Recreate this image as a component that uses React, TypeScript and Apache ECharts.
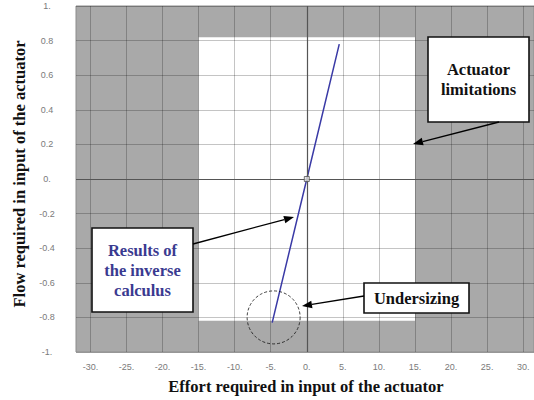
import React, { useEffect, useRef } from "react";
import * as echarts from "echarts";

const xTicks = [-30, -25, -20, -15, -10, -5, 0, 5, 10, 15, 20, 25, 30];
const xRange = [-32, 31.5];
const yRange = [-1, 1];
const yStep = 0.2;
const limitX = [-15, 15];
const limitY = [-0.82, 0.82];
const inverseX = [-4.8, 0, 4.5];
const inverseY = [-0.83, 0, 0.78];
const undersizingCenter = [-4.6, -0.8];
const xTitle = "Effort required in input of the actuator";
const yTitle = "Flow required in input of the actuator";
const noteResults = "Results of\nthe inverse\ncalculus";
const noteUnder = "Undersizing";
const noteLimits = "Actuator\nlimitations";

const SERIF = '"Liberation Serif", "DejaVu Serif", serif';
const SANS = '"Liberation Sans", Arial, sans-serif';

const fmt = (v: number) =>
  Math.abs(v - Math.round(v)) < 1e-9 ? Math.round(v) + "." : v.toFixed(1);

function arrow(x1: number, y1: number, x2: number, y2: number) {
  const dx = x2 - x1;
  const dy = y2 - y1;
  const len = Math.sqrt(dx * dx + dy * dy);
  const ux = dx / len;
  const uy = dy / len;
  const L = 10;
  const W = 3.8;
  const bx = x2 - ux * L;
  const by = y2 - uy * L;
  return [
    {
      type: "line",
      shape: { x1, y1, x2: bx, y2: by },
      style: { stroke: "#000", lineWidth: 1.3 },
      silent: true,
      z: 100,
    },
    {
      type: "polygon",
      shape: {
        points: [
          [x2, y2],
          [bx - uy * W, by + ux * W],
          [bx + uy * W, by - ux * W],
        ],
      },
      style: { fill: "#000" },
      silent: true,
      z: 100,
    },
  ];
}

function box(x: number, y: number, w: number, h: number, text: string, color: string) {
  return [
    {
      type: "rect",
      shape: { x, y, width: w, height: h },
      style: { fill: "#fff", stroke: "#111", lineWidth: 1.6 },
      silent: true,
      z: 100,
    },
    {
      type: "text",
      x: x + w / 2,
      y: y + h / 2,
      style: {
        text,
        fill: color,
        font: `bold 16.5px ${SERIF}`,
        align: "center",
        verticalAlign: "middle",
        lineHeight: 20,
      },
      silent: true,
      z: 101,
    },
  ];
}

export default function App() {
  const ref = useRef<HTMLDivElement>(null);
  useEffect(() => {
    document.body.style.margin = "0";
    const chart = echarts.init(ref.current!, null, { renderer: "svg" });
    const splitStyle = { color: "rgba(0,0,0,0.23)", width: 1 };
    chart.setOption({
      animation: false,
      backgroundColor: "#fff",
      grid: {
        left: 76,
        right: 0,
        top: 6,
        bottom: 48,
        show: true,
        backgroundColor: "#a9a9a9",
        borderColor: "#8c8c8c",
        borderWidth: 1,
        z: 0,
      },
      xAxis: {
        type: "value",
        min: xRange[0],
        max: xRange[1],
        z: 2,
        axisLine: { show: false },
        axisTick: { show: false, customValues: xTicks },
        splitLine: { show: true, lineStyle: splitStyle },
        axisLabel: {
          customValues: xTicks,
          formatter: fmt,
          fontSize: 9,
          color: "#7a7a7a",
          fontFamily: SANS,
          margin: 10,
        },
      },
      yAxis: {
        type: "value",
        min: yRange[0],
        max: yRange[1],
        interval: yStep,
        z: 2,
        axisLine: { show: false },
        axisTick: { show: false },
        splitLine: { show: true, lineStyle: splitStyle },
        axisLabel: {
          formatter: fmt,
          fontSize: 9,
          color: "#7a7a7a",
          fontFamily: SANS,
          align: "center",
          margin: 29,
        },
      },
      series: [
        {
          type: "line",
          data: [],
          z: 1,
          silent: true,
          markArea: {
            silent: true,
            itemStyle: { color: "#fff" },
            data: [[{ coord: [limitX[0], limitY[1]] }, { coord: [limitX[1], limitY[0]] }]],
          },
        },
        {
          type: "line",
          data: [],
          z: 3,
          silent: true,
          markLine: {
            silent: true,
            symbol: "none",
            label: { show: false },
            lineStyle: { color: "#555", width: 1.2, type: "solid" },
            data: [{ xAxis: 0 }, { yAxis: 0 }],
          },
        },
        {
          type: "line",
          z: 4,
          symbol: "none",
          lineStyle: { color: "#3a3aa6", width: 1.5 },
          data: inverseX.map((x, i) => [x, inverseY[i]]),
        },
        {
          type: "scatter",
          z: 5,
          symbol: "rect",
          symbolSize: 5,
          itemStyle: { color: "#ddd", borderColor: "#555", borderWidth: 1 },
          data: [[inverseX[1], inverseY[1]]],
        },
        {
          type: "scatter",
          z: 5,
          symbol: "circle",
          symbolSize: 53,
          itemStyle: {
            color: "rgba(0,0,0,0)",
            borderColor: "#111",
            borderWidth: 1,
            borderType: [3, 2],
          },
          data: [undersizingCenter],
        },
      ],
      graphic: [
        {
          type: "text",
          x: 306,
          y: 386,
          style: {
            text: xTitle,
            fill: "#111",
            font: `bold 16.5px ${SERIF}`,
            align: "center",
            verticalAlign: "middle",
          },
          silent: true,
        },
        {
          type: "text",
          x: 19,
          y: 174,
          rotation: Math.PI / 2,
          style: {
            text: yTitle,
            fill: "#111",
            font: `bold 16.5px ${SERIF}`,
            align: "center",
            verticalAlign: "middle",
          },
          silent: true,
        },
        ...box(92, 228, 101, 84, noteResults, "#3a3a90"),
        ...box(364, 283, 105, 30, noteUnder, "#111"),
        ...box(428, 37, 101, 85, noteLimits, "#111"),
        ...arrow(193, 244, 294, 217),
        ...arrow(364, 296, 302, 306),
        ...arrow(499, 122, 413, 144),
      ],
    });
    return () => chart.dispose();
  }, []);
  return <div ref={ref} style={{ width: 534, height: 400 }} />;
}
